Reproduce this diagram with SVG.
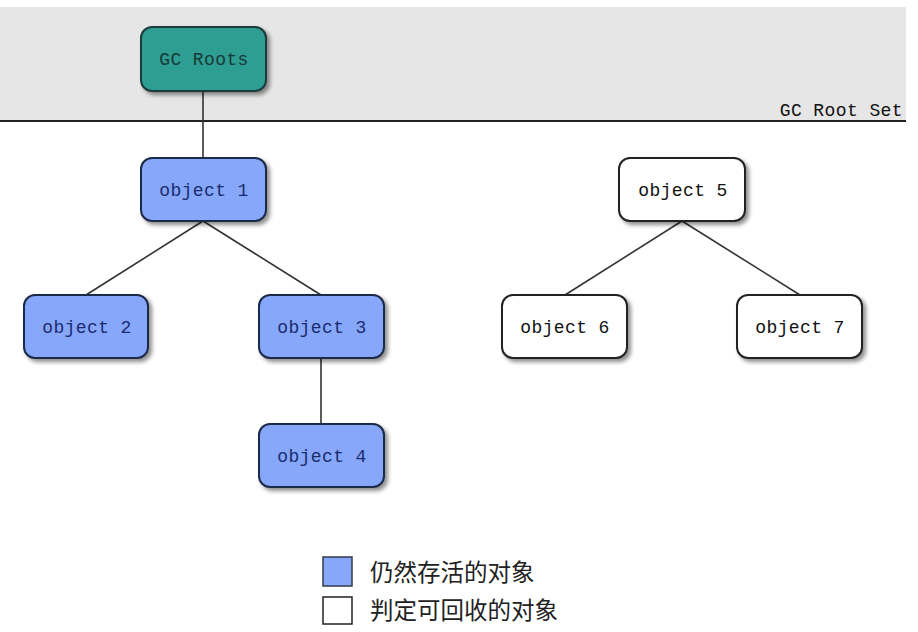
<svg xmlns="http://www.w3.org/2000/svg" width="918" height="632" viewBox="0 0 918 632">
<defs>
<filter id="sh" x="-20%" y="-20%" width="150%" height="160%">
<feGaussianBlur in="SourceAlpha" stdDeviation="2"/>
<feOffset dx="3" dy="3" result="b"/>
<feComponentTransfer><feFuncA type="linear" slope="0.45"/></feComponentTransfer>
<feMerge><feMergeNode/><feMergeNode in="SourceGraphic"/></feMerge>
</filter>
</defs>
<style>
.node rect{stroke-width:2;filter:url(#sh)}
.live rect{fill:#87a7fa;stroke:#1d2a4a}
.dead rect{fill:#ffffff;stroke:#222222}
.root rect{fill:#2e9d92;stroke:#1e3a3a}
.node text{font-family:"Liberation Mono","DejaVu Sans Mono",monospace;font-size:18px;letter-spacing:0.4px;text-anchor:middle}
.live text{fill:#1a2c6e}
.dead text{fill:#111111}
.root text{fill:#173a36}
.conn line{stroke:#333333;stroke-width:1.6}
.legend text{font-family:"Noto Sans CJK SC","Noto Sans",sans-serif;font-size:23.5px;fill:#222222}
</style>
<rect x="0" y="0" width="918" height="632" fill="#ffffff"/>
<rect x="0" y="7" width="906" height="114" fill="#e6e6e6"/>
<line x1="0" y1="121" x2="906" y2="121" stroke="#222222" stroke-width="2"/>
<text x="903" y="116" font-family="Liberation Mono,monospace" font-size="18" letter-spacing="0.4" text-anchor="end" fill="#111111">GC Root Set</text>
<g id="connectors" class="conn">
<line x1="203" y1="91" x2="203" y2="158"/>
<line x1="203" y1="221" x2="86" y2="295"/>
<line x1="203" y1="221" x2="321" y2="295"/>
<line x1="321" y1="358" x2="321" y2="424"/>
<line x1="682" y1="221" x2="565" y2="295"/>
<line x1="682" y1="221" x2="800" y2="295"/>
</g>
<g id="gcroots" class="node root"><rect x="141" y="27" width="125" height="64" rx="11"/><text x="204" y="65">GC Roots</text></g>
<g id="object1" class="node live"><rect x="141" y="158" width="125" height="63" rx="11"/><text x="204" y="196">object 1</text></g>
<g id="object2" class="node live"><rect x="24" y="295" width="124" height="63" rx="11"/><text x="87" y="333">object 2</text></g>
<g id="object3" class="node live"><rect x="259" y="295" width="125" height="63" rx="11"/><text x="322" y="333">object 3</text></g>
<g id="object4" class="node live"><rect x="259" y="424" width="125" height="63" rx="11"/><text x="322" y="462">object 4</text></g>
<g id="object5" class="node dead"><rect x="619" y="158" width="126" height="63" rx="11"/><text x="683" y="196">object 5</text></g>
<g id="object6" class="node dead"><rect x="502" y="295" width="125" height="63" rx="11"/><text x="565" y="333">object 6</text></g>
<g id="object7" class="node dead"><rect x="737" y="295" width="125" height="63" rx="11"/><text x="800" y="333">object 7</text></g>
<g id="legend" class="legend">
<rect x="323" y="557" width="29" height="29" fill="#87a7fa" stroke="#333a4a" stroke-width="1.5"/>
<rect x="323" y="597" width="29" height="27" fill="#ffffff" stroke="#222222" stroke-width="1.5"/>
<text x="370" y="581">仍然存活的对象</text>
<text x="370" y="619">判定可回收的对象</text>
</g>
</svg>
